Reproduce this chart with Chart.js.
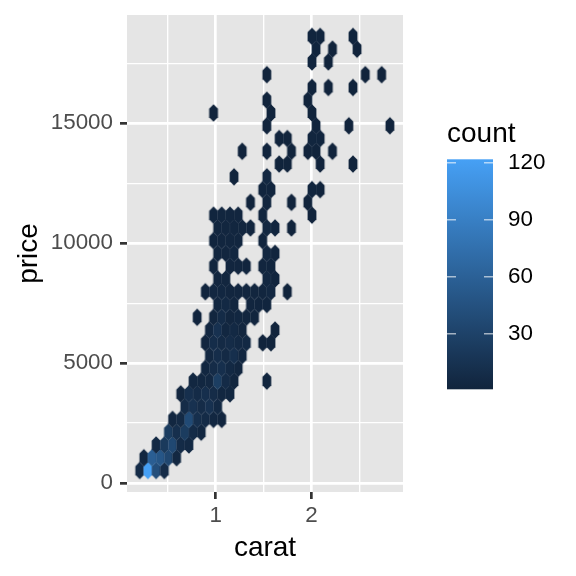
<!DOCTYPE html>
<html>
<head>
<meta charset="utf-8">
<style>
html, body { margin: 0; padding: 0; background: #fff; }
canvas { display: block; }
</style>
<script src="https://cdn.jsdelivr.net/npm/chart.js@4"></script>
</head>
<body>
<canvas id="grafico" width="576" height="576"></canvas>
<script>
const caratMajor = [1, 2];
const caratMinor = [0.5, 1.5, 2.5];
const priceMajor = [0, 5000, 10000, 15000];
const priceMinor = [2500, 7500, 12500, 17500];
const countTicks = [30, 60, 90, 120];
const countMin = 1;
const countMax = 122;

// one entry per row of hexagons
const rowPrice = [529, 1061, 1593, 2125, 2657, 3189, 3721, 4253, 4785, 5317, 5849, 6381, 6913, 7445, 7977, 8509, 9041, 9573,
    10105, 10637, 11169, 11701, 12233, 12765, 13297, 13829, 14361, 14893, 15425, 15957, 16489, 17021, 17553, 18085, 18617];
const rowCarat = [
    [.207, .292, .378, .464],
    [.250, .335, .421, .506, .592],
    [.378, .464, .549, .635, .720],
    [.506, .592, .678, .763, .849],
    [.549, .635, .720, .806, .892, .977, 1.063],
    [.678, .763, .849, .934, 1.020],
    [.635, .720, .806, .892, .977, 1.063, 1.149],
    [.763, .849, .934, 1.020, 1.106, 1.191, 1.534],
    [.892, .977, 1.063, 1.149, 1.234],
    [.934, 1.020, 1.106, 1.191, 1.277],
    [.892, .977, 1.063, 1.149, 1.234, 1.320, 1.491, 1.577],
    [.934, 1.020, 1.106, 1.191, 1.277, 1.619],
    [.806, .977, 1.063, 1.149, 1.234, 1.320, 1.405],
    [1.020, 1.106, 1.191, 1.363, 1.448, 1.534],
    [.892, .977, 1.063, 1.149, 1.234, 1.320, 1.405, 1.491, 1.577, 1.748],
    [1.020, 1.106, 1.534, 1.619],
    [.977, 1.149, 1.234, 1.320, 1.491, 1.577],
    [1.020, 1.106, 1.191, 1.534, 1.619],
    [.977, 1.063, 1.149, 1.234, 1.491],
    [1.020, 1.106, 1.191, 1.277, 1.363, 1.534, 1.619, 1.791],
    [.977, 1.063, 1.149, 1.234, 1.491, 2.005],
    [1.363, 1.534, 1.791, 1.962],
    [1.491, 1.577, 2.005, 2.090],
    [1.191, 1.534],
    [1.662, 1.748, 2.090, 2.433],
    [1.277, 1.534, 1.791, 1.962, 2.047, 2.219],
    [1.662, 1.748, 2.005, 2.090],
    [1.534, 2.047, 2.390, 2.818],
    [.977, 1.577, 2.005],
    [1.534, 1.962],
    [2.005, 2.176, 2.433],
    [1.534, 2.561, 2.732],
    [2.005, 2.176],
    [2.047, 2.219, 2.475],
    [2.005, 2.090, 2.433]
];
const rowCount = [
    [8, 122, 42, 9],
    [4, 58, 50, 35, 5],
    [6, 22, 36, 8, 6],
    [24, 12, 24, 8, 4],
    [4, 7, 38, 12, 8, 4, 3],
    [9, 14, 9, 14, 6],
    [3, 12, 8, 12, 9, 4, 4],
    [4, 4, 5, 26, 8, 3, 2],
    [4, 9, 12, 6, 3],
    [5, 10, 7, 12, 4],
    [3, 10, 7, 9, 6, 6, 1, 1],
    [4, 14, 4, 6, 3, 1],
    [2, 3, 8, 3, 4, 3, 2],
    [4, 6, 3, 3, 2, 2],
    [2, 4, 4, 3, 3, 3, 3, 3, 5, 1],
    [3, 3, 4, 2],
    [2, 3, 3, 2, 3, 2],
    [3, 3, 4, 4, 2],
    [2, 3, 3, 3, 2],
    [3, 3, 3, 3, 2, 5, 2, 1],
    [2, 3, 3, 3, 2, 1],
    [1, 3, 1, 1],
    [2, 2, 2, 1],
    [1, 5],
    [1, 1, 1, 1],
    [1, 2, 1, 1, 1, 1],
    [1, 1, 3, 2],
    [1, 2, 1, 1],
    [1, 1, 1],
    [1, 1],
    [1, 1, 1],
    [1, 1, 1],
    [2, 1],
    [2, 1, 1],
    [2, 2, 2]
];

const lowColor = [17, 36, 60];
const highColor = [70, 160, 245];

function corCount(c) {
    const t = (c - countMin) / (countMax - countMin);
    const m = lowColor.map((v, i) => Math.round(v + (highColor[i] - v) * t));
    return 'rgb(' + m.join(',') + ')';
}

// pre-drawn hexagon per colour, used as the point style
const hexCache = {};
function hexagono(c) {
    if (hexCache[c]) return hexCache[c];
    const w = 8.8, h = 17.4;
    const cv = document.createElement('canvas');
    cv.width = 12;
    cv.height = 22;
    const g = cv.getContext('2d');
    g.translate(6, 11);
    g.fillStyle = corCount(c);
    g.beginPath();
    g.moveTo(0, -h / 2);
    g.lineTo(w / 2, -h / 4);
    g.lineTo(w / 2, h / 4);
    g.lineTo(0, h / 2);
    g.lineTo(-w / 2, h / 4);
    g.lineTo(-w / 2, -h / 4);
    g.closePath();
    g.fill();
    hexCache[c] = cv;
    return cv;
}

const pontos = [];
const estilos = [];
rowPrice.forEach((p, r) => {
    rowCarat[r].forEach((c, i) => {
        pontos.push({ x: c, y: p });
        estilos.push(hexagono(rowCount[r][i]));
    });
});

const fundoPainel = {
    id: 'fundoPainel',
    beforeDraw(chart) {
        const a = chart.chartArea;
        chart.ctx.fillStyle = '#E5E5E5';
        chart.ctx.fillRect(a.left, a.top, a.right - a.left, a.bottom - a.top);
    }
};

const legendaCount = {
    id: 'legendaCount',
    afterDraw(chart) {
        const ctx = chart.ctx;
        const x = 447, w = 46, top = 159.3, bottom = 389.3;
        const pxPorCount = 1.9;
        const yDe = c => 333.7 - (c - 30) * pxPorCount;
        ctx.save();
        const grad = ctx.createLinearGradient(0, bottom, 0, top);
        grad.addColorStop(0, corCount(countMin));
        grad.addColorStop(1, corCount(countMax));
        ctx.fillStyle = grad;
        ctx.fillRect(x, top, w, bottom - top);
        ctx.strokeStyle = 'rgba(255,255,255,0.6)';
        ctx.lineWidth = 1.4;
        ctx.fillStyle = '#000';
        ctx.font = '22.4px "Liberation Sans"';
        ctx.textBaseline = 'middle';
        countTicks.forEach(c => {
            const y = yDe(c);
            ctx.beginPath();
            ctx.moveTo(x, y);
            ctx.lineTo(x + 9, y);
            ctx.moveTo(x + w - 9, y);
            ctx.lineTo(x + w, y);
            ctx.stroke();
            ctx.fillText(String(c), 508, y);
        });
        ctx.font = '28px "Liberation Sans"';
        ctx.fillText('count', 447, 134);
        ctx.restore();
    }
};

function eixo(major, minor, titulo, min, max) {
    return {
        type: 'linear',
        min: min,
        max: max,
        border: { display: false },
        afterBuildTicks(scale) {
            scale.ticks = major.concat(minor).sort((a, b) => a - b).map(v => ({ value: v }));
        },
        grid: {
            color: '#fff',
            lineWidth: ctx => major.includes(ctx.tick.value) ? 2.7 : 1.35,
            tickColor: ctx => major.includes(ctx.tick.value) ? '#333333' : 'rgba(0,0,0,0)',
            tickWidth: 2.7,
            tickLength: 7,
            drawOnChartArea: true
        },
        ticks: {
            autoSkip: false,
            maxRotation: 0,
            color: '#4D4D4D',
            font: { family: '"Liberation Sans"', size: 22.4 },
            padding: 7,
            callback: v => major.includes(v) ? String(v) : ''
        },
        title: {
            display: true,
            text: titulo,
            color: '#000',
            font: { family: '"Liberation Sans"', size: 28 }
        }
    };
}

const xEixo = eixo(caratMajor, caratMinor, 'carat', 0.074, 2.955);
xEixo.afterFit = scale => {
    scale.height = 84;
    scale.paddingLeft = 0;
    scale.paddingRight = 0;
};
xEixo.ticks.padding = 3;
xEixo.title.padding = { top: 6, bottom: 11 };
const yEixo = eixo(priceMajor, priceMinor, 'price', -368, 19508);
yEixo.afterFit = scale => {
    scale.width = 127;
    scale.paddingTop = 0;
    scale.paddingBottom = 0;
};
yEixo.title.padding = { top: 12, bottom: 0 };

new Chart(document.getElementById('grafico'), {
    type: 'scatter',
    data: {
        datasets: [{
            label: 'count',
            data: pontos,
            pointStyle: ctx => estilos[ctx.dataIndex],
            pointRadius: 5,
            clip: false
        }]
    },
    options: {
        responsive: false,
        animation: false,
        layout: { padding: { left: 0, right: 173, top: 15, bottom: 0 } },
        plugins: { legend: { display: false }, tooltip: { enabled: false } },
        scales: { x: xEixo, y: yEixo }
    },
    plugins: [fundoPainel, legendaCount]
});
</script>
</body>
</html>
